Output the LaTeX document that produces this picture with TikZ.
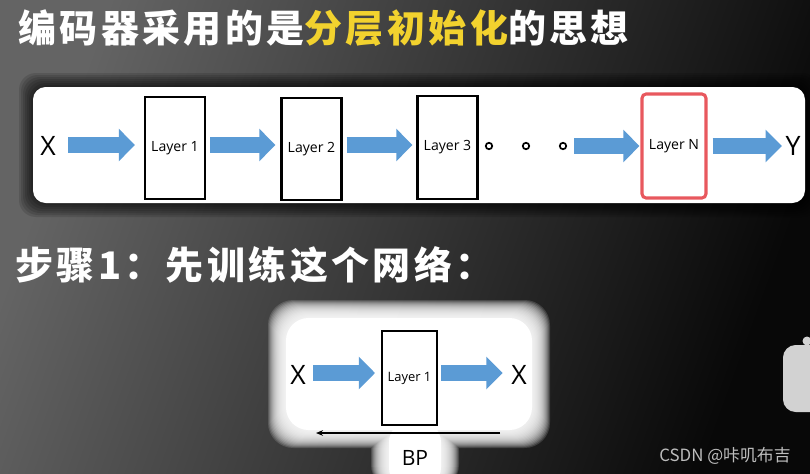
\documentclass[tikz,border=0pt]{standalone}
\usepackage{fontspec}
\setmainfont{Open Sans}
\newfontfamily\cjk{Noto Sans CJK SC}[LetterSpace=9]
\newfontfamily\cjkmark{Noto Sans CJK SC}
\usetikzlibrary{arrows.meta, positioning, calc}
\definecolor{bgLight}{HTML}{646464}
\definecolor{bgDark}{HTML}{080808}
\definecolor{flowBlue}{HTML}{5B9BD5}
\definecolor{layerRed}{HTML}{E8585E}
\definecolor{titleYellow}{HTML}{F2D22E}
\definecolor{markGray}{HTML}{BDBDBD}
\definecolor{iconGray}{HTML}{D2D2D2}
\tikzset{
  flowR/.style={-{Triangle[length=11.5pt, width=22.5pt]}, flowBlue, line width=11.4pt},
  bpArrow/.style={-{Stealth[length=5pt, width=4pt]}, black, line width=0.8pt},
  layerBox/.style={rectangle, draw=black, line width=1.5pt, fill=white,
                   minimum width=42.7pt, minimum height=73pt, inner sep=0pt,
                   font=\fontsize{10}{12}\selectfont},
  layerRedBox/.style={layerBox, draw=layerRed, line width=2.2pt, rounded corners=3pt,
                      minimum width=45.5pt, minimum height=74pt},
  smallLayer/.style={layerBox, minimum width=39pt, minimum height=67pt,
                     font=\fontsize{9.2}{11}\selectfont},
  ioLabel/.style={font=\fontsize{19}{20}\selectfont, inner sep=1pt},
  dotR/.style={circle, draw=black, line width=1.2pt, minimum size=4.6pt, inner sep=0pt},
  headline/.style={font=\cjk\bfseries\fontsize{27}{30}\selectfont, text=white,
                   anchor=west, inner sep=0pt},
}
\begin{document}
\begin{tikzpicture}[x=0.025cm, y=-0.025cm]
  \useasboundingbox (0,0) rectangle (810,474);
  \clip (0,0) rectangle (810,474);
  % background
  \shade[left color=bgLight, right color=bgDark, shading angle=70] (0,0) rectangle (810,474);
  \node[headline] (title) at (18,28) {编码器采用的是{\color{titleYellow}分层初始化}的思想};
  % top panel with shadow
  \foreach \g in {14,12,...,2}
    \fill[black, opacity=0.12, rounded corners=12] (33-\g,87-\g) rectangle (805+\g,203+\g);
  \fill[white, rounded corners=9] (33,87) rectangle (805,203);
  \node[ioLabel] (xin) at (48,146) {X};
  \node[layerBox] (l1) at (175,148) {Layer 1};
  \node[layerBox] (l2) at (311.5,149) {Layer 2};
  \node[layerBox] (l3) at (447.5,147.5) {Layer 3};
  \node[dotR] (d1) at (489,146) {};
  \node[dotR] (d2) at (526,146) {};
  \node[dotR] (d3) at (563,146) {};
  \node[layerRedBox] (ln) at (674,146) {Layer N};
  \node[ioLabel] (yout) at (793,146) {Y};
  \draw[flowR] ($(xin.east)+(11,-1)$) -- ($(l1.west)+(-9,-3)$);
  \draw[flowR] ($(l1.east)+(4,-3)$) -- ($(l2.west)+(-5,-4)$);
  \draw[flowR] ($(l2.east)+(4,-4)$) -- ($(l3.west)+(-4,-2.5)$);
  \draw[flowR] ($(d3.east)+(7,0)$) -- ($(ln.west)+(-1,0)$);
  \draw[flowR] ($(ln.east)+(5,0)$) -- ($(yout.west)+(-2,0)$);
  % step 1
  \node[headline] (step) at (15,265) {步骤1：先训练这个网络：};
  \foreach \g in {18,17,...,1}
    \fill[white, opacity=0.15, rounded corners=18]
      (286-\g,318-\g) rectangle (532+\g,430+\g) (389-\g,425) rectangle (441+\g,490);
  \fill[white, rounded corners=16] (286,318) rectangle (532,430) (389,420) rectangle (441,490);
  \node[ioLabel] (xb) at (298,375) {X};
  \node[smallLayer] (b1) at (409.5,378) {Layer 1};
  \node[ioLabel] (xo) at (519,375) {X};
  \draw[flowR] ($(xb.east)+(6,-2)$) -- ($(b1.west)+(-6,-5)$);
  \draw[flowR] ($(b1.east)+(3,-5)$) -- ($(xo.west)+(-7,-2)$);
  \coordinate (bpR) at (500,433);
  \coordinate (bpL) at (316,433);
  \draw[bpArrow] (bpR) -- (bpL);
  \node[font=\fontsize{15}{16}\selectfont] (bp) at (415,458) {BP};
  % watermark and side icon
  \node[font=\cjkmark\fontsize{12}{13}\selectfont, text=markGray] (mark) at (725,456) {CSDN @咔叽布吉};
  \fill[iconGray, rounded corners=9] (783,345) rectangle (840,412);
  \fill[iconGray] (807,341) circle (4.5);
\end{tikzpicture}
\end{document}
